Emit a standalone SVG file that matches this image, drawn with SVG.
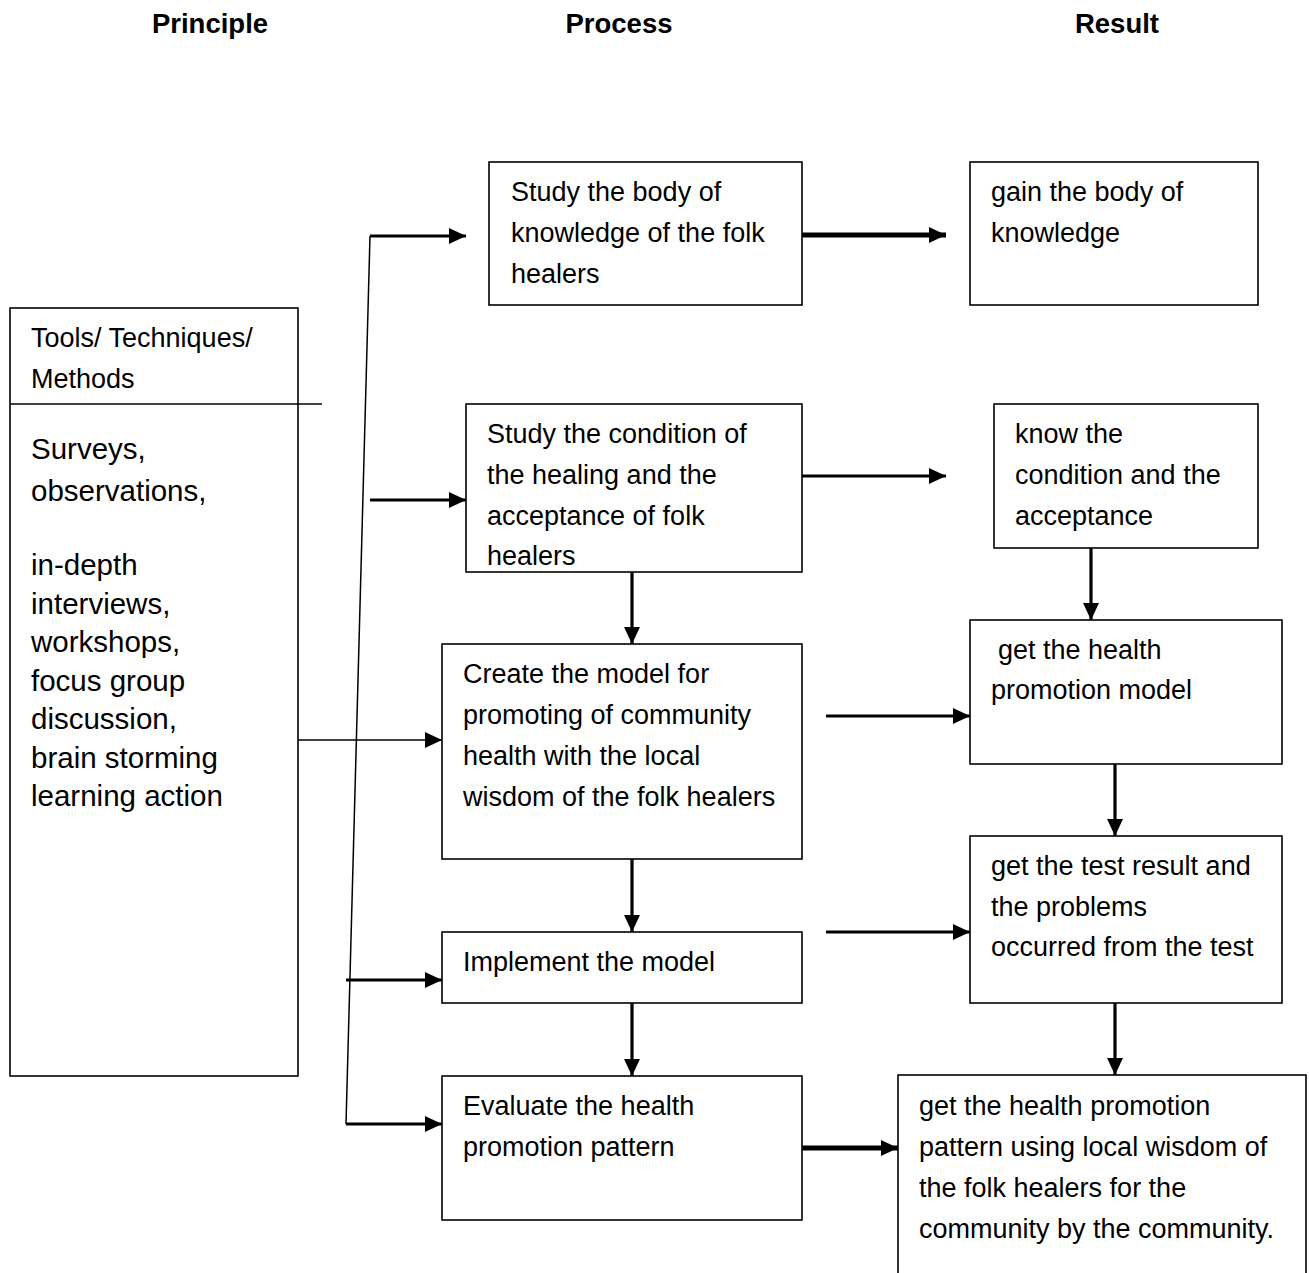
<svg xmlns="http://www.w3.org/2000/svg" width="1309" height="1273" viewBox="0 0 1309 1273">
<style>
.box{fill:#fff;stroke:#000;stroke-width:1.6}
.t{font-family:"Liberation Sans",Arial,sans-serif;font-size:27px;fill:#000}
.tl{font-family:"Liberation Sans",Arial,sans-serif;font-size:29.5px;fill:#000}
.h{font-family:"Liberation Sans",Arial,sans-serif;font-size:27.5px;font-weight:bold;fill:#000;text-anchor:middle}
.c{fill:none;stroke:#000}
.thin{stroke-width:1.5}
.mid{stroke-width:3.2}
.thick{stroke-width:5}
</style>
<defs>
<marker id="ah" markerUnits="userSpaceOnUse" markerWidth="18" markerHeight="17" refX="17" refY="8.5" orient="auto">
<path d="M0,0.5 L17,8.5 L0,16.5 z" fill="#000"/>
</marker>
</defs>
<rect width="1309" height="1273" fill="#fff"/>
<g id="headers">
<text class="h" x="210" y="33">Principle</text>
<text class="h" x="619" y="33">Process</text>
<text class="h" x="1117" y="33">Result</text>
</g>
<g id="tools">
<rect class="box" x="10" y="308" width="288" height="768"/>
<line class="c thin" x1="10" y1="404" x2="322" y2="404"/>
<text class="t" x="31" y="347">Tools/ Techniques/</text>
<text class="t" x="31" y="388">Methods</text>
<text class="tl" x="31" y="459">Surveys,</text>
<text class="tl" x="31" y="501">observations,</text>
<text class="tl" x="31" y="575">in-depth</text>
<text class="tl" x="31" y="614">interviews,</text>
<text class="tl" x="31" y="652">workshops,</text>
<text class="tl" x="31" y="691">focus group</text>
<text class="tl" x="31" y="729">discussion,</text>
<text class="tl" x="31" y="768">brain storming</text>
<text class="tl" x="31" y="806">learning action</text>
</g>
<g id="p1">
<rect class="box" x="489" y="162" width="313" height="143"/>
<text class="t" x="511" y="201">Study the body of</text>
<text class="t" x="511" y="242">knowledge of the folk</text>
<text class="t" x="511" y="283">healers</text>
</g>
<g id="p2">
<rect class="box" x="466" y="404" width="336" height="168"/>
<text class="t" x="487" y="443">Study the condition of</text>
<text class="t" x="487" y="484">the healing and the</text>
<text class="t" x="487" y="525">acceptance of folk</text>
<text class="t" x="487" y="565">healers</text>
</g>
<g id="p3">
<rect class="box" x="442" y="644" width="360" height="215"/>
<text class="t" x="463" y="683">Create the model for</text>
<text class="t" x="463" y="724">promoting of community</text>
<text class="t" x="463" y="765">health with the local</text>
<text class="t" x="463" y="806">wisdom of the folk healers</text>
</g>
<g id="p4">
<rect class="box" x="442" y="932" width="360" height="71"/>
<text class="t" x="463" y="971">Implement the model</text>
</g>
<g id="p5">
<rect class="box" x="442" y="1076" width="360" height="144"/>
<text class="t" x="463" y="1115">Evaluate the health</text>
<text class="t" x="463" y="1156">promotion pattern</text>
</g>
<g id="r1">
<rect class="box" x="970" y="162" width="288" height="143"/>
<text class="t" x="991" y="201">gain the body of</text>
<text class="t" x="991" y="242">knowledge</text>
</g>
<g id="r2">
<rect class="box" x="994" y="404" width="264" height="144"/>
<text class="t" x="1015" y="443">know the</text>
<text class="t" x="1015" y="484">condition and the</text>
<text class="t" x="1015" y="525">acceptance</text>
</g>
<g id="r3">
<rect class="box" x="970" y="620" width="312" height="144"/>
<text class="t" x="998" y="659">get the health</text>
<text class="t" x="991" y="699">promotion model</text>
</g>
<g id="r4">
<rect class="box" x="970" y="836" width="312" height="167"/>
<text class="t" x="991" y="875">get the test result and</text>
<text class="t" x="991" y="916">the problems</text>
<text class="t" x="991" y="956">occurred from the test</text>
</g>
<g id="r5">
<rect class="box" x="898" y="1075" width="408" height="230"/>
<text class="t" x="919" y="1115">get the health promotion</text>
<text class="t" x="919" y="1156">pattern using local wisdom of</text>
<text class="t" x="919" y="1197">the folk healers for the</text>
<text class="t" x="919" y="1238">community by the community.</text>
</g>
<g id="connectors">
<line class="c thin" x1="370" y1="236" x2="346" y2="1124"/>
<line class="c mid" x1="370" y1="236" x2="466" y2="236" marker-end="url(#ah)"/>
<line class="c mid" x1="370" y1="500" x2="466" y2="500" marker-end="url(#ah)"/>
<line class="c thin" x1="298" y1="740" x2="442" y2="740" marker-end="url(#ah)"/>
<line class="c mid" x1="346" y1="980" x2="442" y2="980" marker-end="url(#ah)"/>
<line class="c mid" x1="346" y1="1124" x2="442" y2="1124" marker-end="url(#ah)"/>
<line class="c thick" x1="802" y1="235" x2="946" y2="235" marker-end="url(#ah)"/>
<line class="c mid" x1="802" y1="476" x2="946" y2="476" marker-end="url(#ah)"/>
<line class="c mid" x1="826" y1="716" x2="970" y2="716" marker-end="url(#ah)"/>
<line class="c mid" x1="826" y1="932" x2="970" y2="932" marker-end="url(#ah)"/>
<line class="c thick" x1="802" y1="1148" x2="898" y2="1148" marker-end="url(#ah)"/>
<line class="c mid" x1="632" y1="572" x2="632" y2="644" marker-end="url(#ah)"/>
<line class="c mid" x1="632" y1="859" x2="632" y2="932" marker-end="url(#ah)"/>
<line class="c mid" x1="632" y1="1003" x2="632" y2="1076" marker-end="url(#ah)"/>
<line class="c mid" x1="1091" y1="548" x2="1091" y2="620" marker-end="url(#ah)"/>
<line class="c mid" x1="1115" y1="764" x2="1115" y2="836" marker-end="url(#ah)"/>
<line class="c mid" x1="1115" y1="1003" x2="1115" y2="1075" marker-end="url(#ah)"/>
</g>
</svg>
